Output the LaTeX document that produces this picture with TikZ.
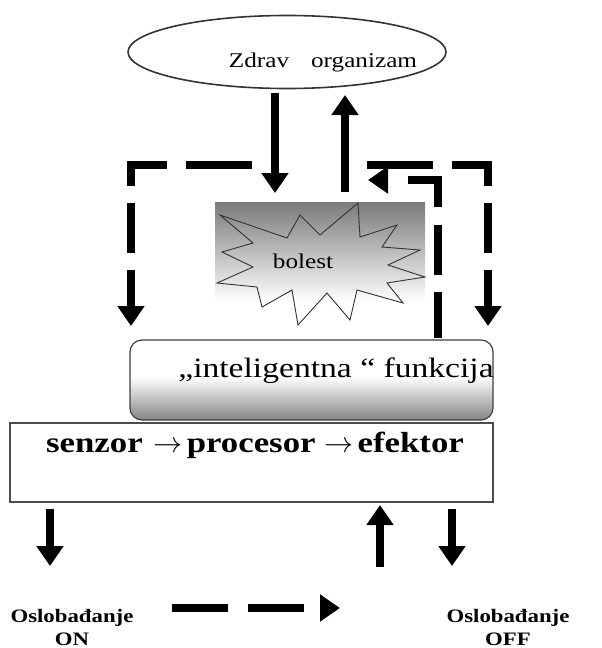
\RequirePackage{fix-cm}
\documentclass[tikz,border=0pt]{standalone}
\usepackage{fontspec}
\setmainfont{Liberation Serif}
\newfontfamily\wf[FakeStretch=1.2]{Liberation Serif}
\usetikzlibrary{arrows.meta,shapes.geometric}
% vertical shadings: the path spans 25bp (bottom) .. 75bp (top)
\pgfdeclareverticalshading{bolshade}{100bp}{color(0bp)=(white); color(25bp)=(white); color(36bp)=(white); color(75bp)=(black!52); color(100bp)=(black!52)}
\pgfdeclareverticalshading{intshade}{100bp}{color(0bp)=(black!48); color(25bp)=(black!48); color(52bp)=(white); color(75bp)=(white); color(100bp)=(white)}
\tikzset{
  bigarrow/.style={line width=8pt, -{Triangle[width=26pt,length=20pt]}},
  dashloop/.style={line width=8pt, line join=miter,
                   dash pattern=on 66pt off 19pt on 57pt off 17pt on 50pt off 17pt on 80pt,
                   -{Triangle[width=26pt,length=20pt]}},
  lbl/.style={anchor=base, inner sep=0pt},
}
\begin{document}
\begin{tikzpicture}[x=1pt,y=-1pt]
\fill[white] (0,0) rectangle (602,648);
\useasboundingbox (0,0) rectangle (602,648);

% healthy organism
\node[ellipse, draw=black!80, line width=1.6pt, minimum width=318pt, minimum height=73pt, inner sep=0pt] (org) at (287,52) {};
\node[lbl, font=\wf\fontsize{21}{24}\selectfont] (orgtxt) at (323,67) {Zdrav\hspace{22pt}organizam};

% disease
\node[rectangle, shading=bolshade, minimum width=210pt, minimum height=128pt, inner sep=0pt] (bol) at (320,266) {};
\draw[line width=0.9pt, black!80, line join=miter]
  (220,215) -- (287,238) -- (300,215) -- (320,235) -- (358,203) -- (360,237)
  -- (397,225) -- (382,247) -- (420,250) -- (388,265) -- (425,277) -- (387,283)
  -- (403,303) -- (357,290) -- (350,320) -- (327,293) -- (298,325) -- (292,290)
  -- (262,307) -- (257,287) -- (217,283) -- (253,267) -- (222,252) -- (253,243) -- cycle;
\node[lbl, font=\wf\fontsize{21}{24}\selectfont] (boltxt) at (303,268) {bolest};

% intelligent function
\node[rectangle, rounded corners=12pt, draw=black!75, line width=1.2pt, shading=intshade,
      minimum width=363pt, minimum height=80pt, inner sep=0pt] (intel) at (311.5,380) {};
\node[lbl, font=\wf\fontsize{28}{32}\selectfont] (inttxt) at (336,377) {„inteligentna “ funkcija};

% sensor - processor - effector
\node[rectangle, draw=black!70, line width=1.5pt, fill=white,
      minimum width=483pt, minimum height=79pt, inner sep=0pt] (sep) at (251.5,462.5) {};
\node[lbl, font=\wf\bfseries\fontsize{29}{34}\selectfont] (septxt) at (255,452)
  {senzor\hspace{11pt}$\rightarrow$\hspace{4pt}procesor\hspace{9pt}$\rightarrow$\hspace{4pt}efektor};

% release labels
\node[align=center, inner sep=0pt, font=\wf\bfseries\fontsize{19}{23}\selectfont] (on) at (72,627) {Oslobađanje\\ON};
\node[align=center, inner sep=0pt, font=\wf\bfseries\fontsize{19}{23}\selectfont] (off) at (508,627) {Oslobađanje\\OFF};

% solid arrows
\coordinate (d1a) at (275,93);  \coordinate (d1b) at (275,193);
\coordinate (u1a) at (345,192); \coordinate (u1b) at (345,95);
\draw[bigarrow] (d1a) -- (d1b);
\draw[bigarrow] (u1a) -- (u1b);

\coordinate (d2a) at (50,509);  \coordinate (d2b) at (50,566);
\coordinate (u2a) at (380,567); \coordinate (u2b) at (380,505);
\coordinate (d3a) at (452,509); \coordinate (d3b) at (452,566);
\draw[bigarrow] (d2a) -- (d2b);
\draw[bigarrow] (u2a) -- (u2b);
\draw[bigarrow] (d3a) -- (d3b);

% dashed loops
\coordinate (la) at (252,165); \coordinate (lc) at (131,165); \coordinate (lb) at (131,326);
\draw[dashloop] (la) -- (lc) -- (lb);
\coordinate (ra) at (367,165); \coordinate (rc) at (488,165); \coordinate (rb) at (488,326);
\draw[dashloop] (ra) -- (rc) -- (rb);
\coordinate (ia) at (438,338); \coordinate (ic) at (438,180); \coordinate (ib) at (368,180);
\draw[dashloop, dash pattern=on 46pt off 17pt on 50pt off 18pt on 57pt off 40pt] (ia) -- (ic) -- (ib);

% ON -> OFF
\coordinate (oa) at (172,608); \coordinate (ob) at (340,608);
\draw[dashloop, dash pattern=on 56pt off 20pt] (oa) -- (ob);
\end{tikzpicture}
\end{document}
